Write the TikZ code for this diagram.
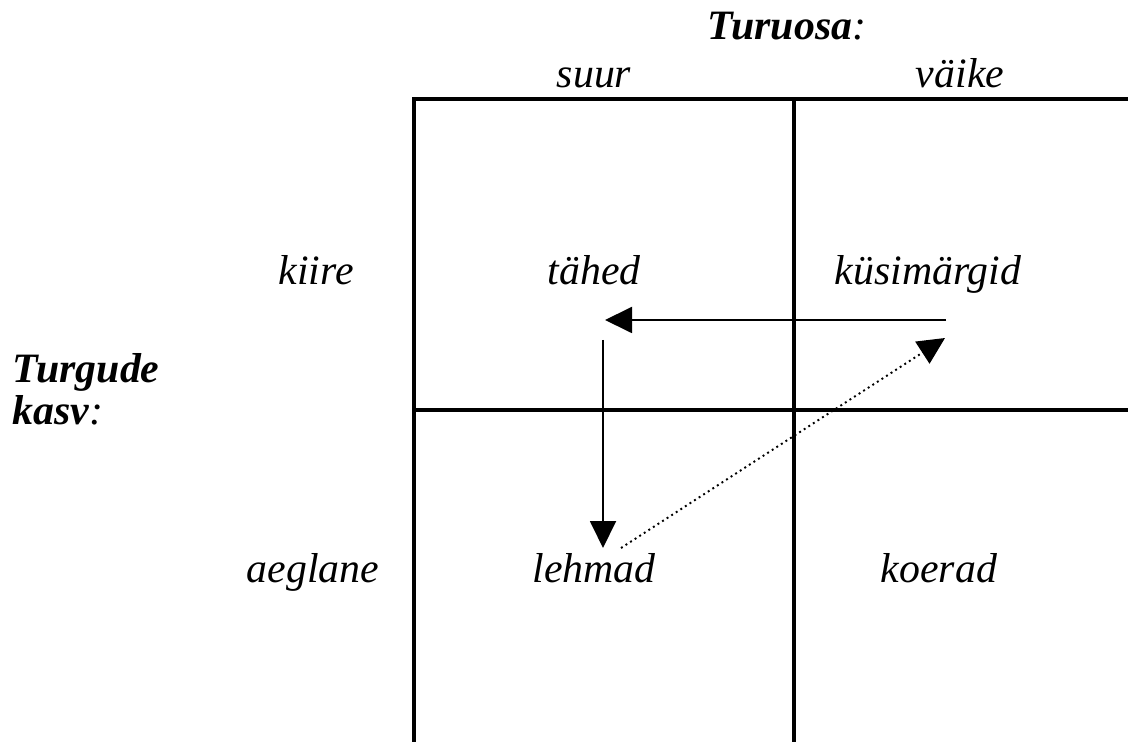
\documentclass[tikz,border=0pt]{standalone}
\usepackage{fontspec}
\setmainfont{Liberation Serif}
\usetikzlibrary{arrows.meta,positioning}

\begin{document}
\begin{tikzpicture}[x=0.02cm,y=-0.02cm]
\tikzstyle{label}=[inner sep=0pt,anchor=base,font=\fontsize{23.8}{28}\selectfont\itshape]
\tikzstyle{heading}=[label,anchor=base west]
\tikzstyle{gridline}=[line width=1.9pt,line cap=rect]
\tikzstyle{move}=[line width=1.1pt,-{Triangle[length=5.4mm,width=5.2mm]}]

\useasboundingbox (0,0) rectangle (1128,742);

%HEADINGS
\node[heading] (share) at (707,40) {\textbf{Turuosa}:};
\node[heading] (growth1) at (12,383) {\textbf{Turgude}};
\node[heading] (growth2) at (12,425) {\textbf{kasv}:};

%COLUMNS
\node[label] (big) at (594,88) {suur};
\node[label] (small) at (960,88) {väike};

%ROWS
\node[label] (fast) at (316,285) {kiire};
\node[label] (slow) at (313,582) {aeglane};

%%%%%%%%%%%%%%%%%%%%%%%%%%%%%%%%%%%%%%%%%%%%%%%%%%%%%%%%%%%%%%%%%%%%%%%%
%cells
\node[label] (stars) at (594,285) {tähed};
\node[label] (question) at (928,285) {küsimärgid};
\node[label] (cows) at (594,582) {lehmad};
\node[label] (dogs) at (939,582) {koerad};

%%%%%%%%%%%%%%%%%%%%%%%%%%%%%%%%%%%%%%%%%%%%%%%%%%%%%%%%%%%%%%%%%%%%%%%%
%GRID
\coordinate (gtl) at (414,99);
\coordinate (gtm) at (794,99);
\coordinate (gtr) at (1128,99);
\coordinate (gml) at (414,410);
\coordinate (gmr) at (1128,410);
\coordinate (gbl) at (414,742);
\coordinate (gbm) at (794,742);

\draw[gridline] (gtl) -- (gtr);
\draw[gridline] (gml) -- (gmr);
\draw[gridline] (gtl) -- (gbl);
\draw[gridline] (gtm) -- (gbm);

%%%%%%%%%%%%%%%%%%%%%%%%%%%%%%%%%%%%%%%%%%%%%%%%%%%%%%%%%%%%%%%%%%%%%%%%
%ARROWS
\coordinate (qstart) at (946,320);
\coordinate (sstop) at (605,320);
\coordinate (sstart) at (603,340);
\coordinate (cstop) at (603,548);
\coordinate (cstart) at (621,548);
\coordinate (qstop) at (945,338);

% question -> star -> cow
\draw[move] (qstart) -- (sstop);
\draw[move] (sstart) -- (cstop);
% cow -> question
\draw[move,dotted] (cstart) -- (qstop);

\end{tikzpicture}
\end{document}
